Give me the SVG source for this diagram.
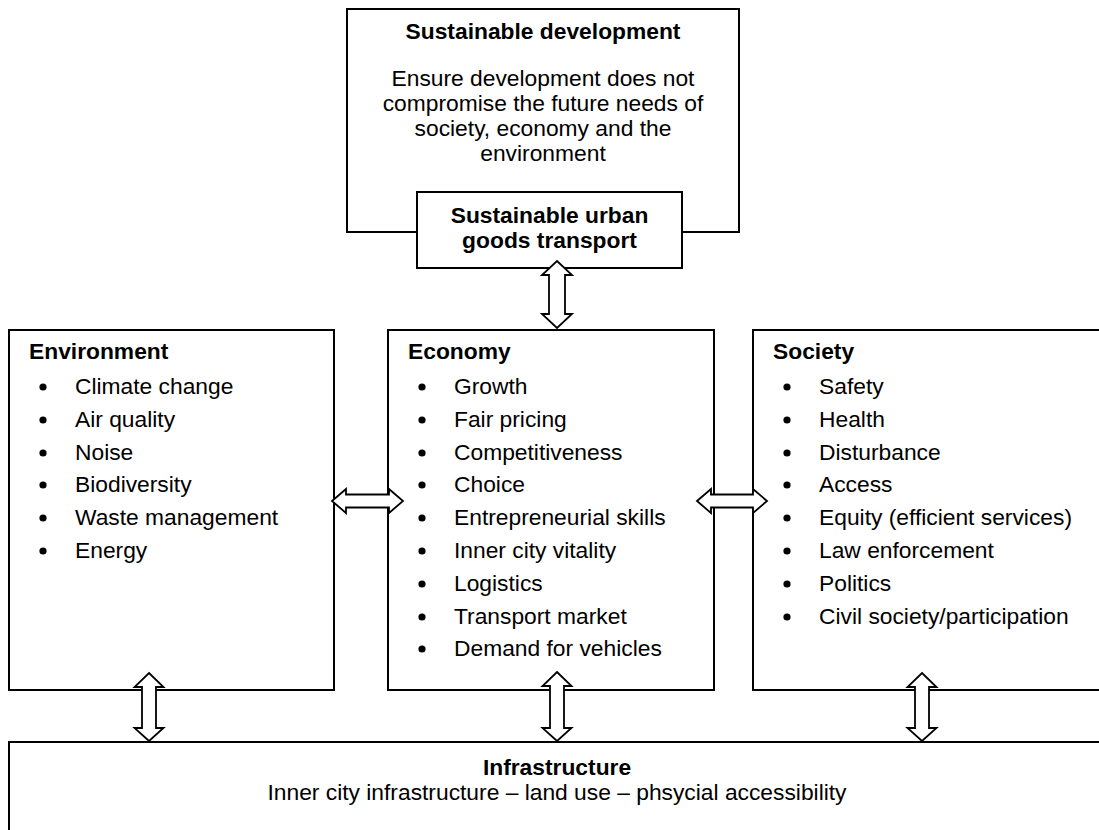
<svg xmlns="http://www.w3.org/2000/svg" width="1099" height="830" viewBox="0 0 1099 830">
<style>
.box{fill:#fff;stroke:#000;stroke-width:2}
.arr{fill:#fff;stroke:#000;stroke-width:1.8;stroke-linejoin:miter}
text{font-family:"Liberation Sans",Arial,sans-serif;font-size:22.8px;fill:#000}
.b{font-weight:bold}
.c{text-anchor:middle}
.dot{fill:#000}
</style>
<rect width="1099" height="830" fill="#fff"/>
<g id="sustainable-development">
<rect class="box" x="347" y="9" width="392" height="223"/>
<text class="b c" x="543" y="39">Sustainable development</text>
<text class="c" x="543" y="86">Ensure development does not</text>
<text class="c" x="543" y="111">compromise the future needs of</text>
<text class="c" x="543" y="136">society, economy and the</text>
<text class="c" x="543" y="161">environment</text>
</g>
<g id="sugt">
<rect class="box" x="417" y="192" width="265" height="76"/>
<text class="b c" x="549.5" y="223">Sustainable urban</text>
<text class="b c" x="549.5" y="248">goods transport</text>
</g>
<g id="environment">
<rect class="box" x="9" y="330" width="325" height="360"/>
<text class="b" x="29" y="359">Environment</text>
<g class="dot"><circle cx="43" cy="387" r="3.6"/><circle cx="43" cy="420" r="3.6"/><circle cx="43" cy="453" r="3.6"/><circle cx="43" cy="485" r="3.6"/><circle cx="43" cy="518" r="3.6"/><circle cx="43" cy="551" r="3.6"/></g>
<text x="75" y="394">Climate change</text>
<text x="75" y="427">Air quality</text>
<text x="75" y="460">Noise</text>
<text x="75" y="492">Biodiversity</text>
<text x="75" y="525">Waste management</text>
<text x="75" y="558">Energy</text>
</g>
<g id="economy">
<rect class="box" x="388" y="330" width="326" height="360"/>
<text class="b" x="408" y="359">Economy</text>
<g class="dot"><circle cx="422" cy="387" r="3.6"/><circle cx="422" cy="420" r="3.6"/><circle cx="422" cy="453" r="3.6"/><circle cx="422" cy="485" r="3.6"/><circle cx="422" cy="518" r="3.6"/><circle cx="422" cy="551" r="3.6"/><circle cx="422" cy="584" r="3.6"/><circle cx="422" cy="617" r="3.6"/><circle cx="422" cy="649" r="3.6"/></g>
<text x="454" y="394">Growth</text>
<text x="454" y="427">Fair pricing</text>
<text x="454" y="460">Competitiveness</text>
<text x="454" y="492">Choice</text>
<text x="454" y="525">Entrepreneurial skills</text>
<text x="454" y="558">Inner city vitality</text>
<text x="454" y="591">Logistics</text>
<text x="454" y="624">Transport market</text>
<text x="454" y="656">Demand for vehicles</text>
</g>
<g id="society">
<rect class="box" x="753" y="330" width="360" height="360"/>
<text class="b" x="773" y="359">Society</text>
<g class="dot"><circle cx="787" cy="387" r="3.6"/><circle cx="787" cy="420" r="3.6"/><circle cx="787" cy="453" r="3.6"/><circle cx="787" cy="485" r="3.6"/><circle cx="787" cy="518" r="3.6"/><circle cx="787" cy="551" r="3.6"/><circle cx="787" cy="584" r="3.6"/><circle cx="787" cy="617" r="3.6"/></g>
<text x="819" y="394">Safety</text>
<text x="819" y="427">Health</text>
<text x="819" y="460">Disturbance</text>
<text x="819" y="492">Access</text>
<text x="819" y="525">Equity (efficient services)</text>
<text x="819" y="558">Law enforcement</text>
<text x="819" y="591">Politics</text>
<text x="819" y="624">Civil society/participation</text>
</g>
<g id="infrastructure">
<rect class="box" x="9" y="742" width="1110" height="120"/>
<text class="b c" x="557" y="775">Infrastructure</text>
<text class="c" x="557" y="800">Inner city infrastructure – land use – phsycial accessibility</text>
</g>
<g id="connectors">
<path class="arr" d="M557,261 L572,275 L565,275 L565,314 L572,314 L557,328 L542,314 L549,314 L549,275 L542,275 Z"/>
<path class="arr" d="M332,501 L346,489 L346,494.5 L389,494.5 L389,489 L403,501 L389,513 L389,507.5 L346,507.5 L346,513 Z"/>
<path class="arr" d="M697,501 L711,489 L711,494.5 L753,494.5 L753,489 L767,501 L753,513 L753,507.5 L711,507.5 L711,513 Z"/>
<path class="arr" d="M149,673 L163.5,687 L156,687 L156,728 L163.5,728 L149,741 L134.5,728 L142,728 L142,687 L134.5,687 Z"/>
<path class="arr" d="M557,672 L571.5,686 L564,686 L564,728 L571.5,728 L557,741 L542.5,728 L550,728 L550,686 L542.5,686 Z"/>
<path class="arr" d="M922,673 L936.5,687 L929,687 L929,728 L936.5,728 L922,741 L907.5,728 L915,728 L915,687 L907.5,687 Z"/>
</g>
</svg>
